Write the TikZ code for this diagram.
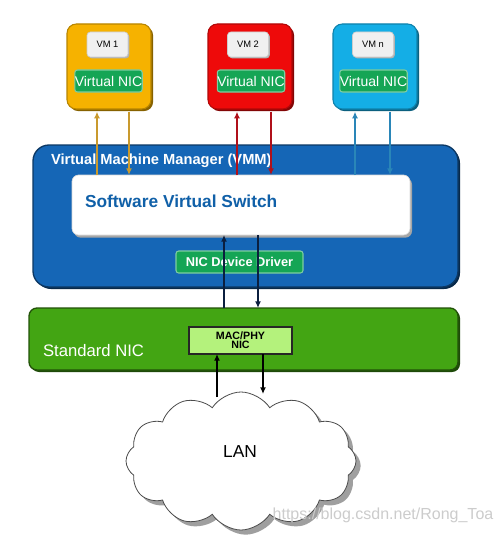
\documentclass[tikz,border=0pt]{standalone}
\usepackage{fontspec}
\setmainfont{Liberation Sans}
\usetikzlibrary{shapes.symbols,shadows,arrows.meta}
\definecolor{vmA}{HTML}{F6B200}
\definecolor{vmB}{HTML}{EE0A0A}
\definecolor{vmC}{HTML}{14AEE6}
\definecolor{nicgreen}{HTML}{15A555}
\definecolor{vmmblue}{HTML}{1566B6}
\definecolor{stdgreen}{HTML}{43A513}
\definecolor{macgreen}{HTML}{B4F27C}
\definecolor{arrA}{HTML}{C99A2E}
\definecolor{arrB}{HTML}{B0101A}
\definecolor{arrC}{HTML}{2A86B8}
\definecolor{arrN}{HTML}{0B1F3F}
\definecolor{swtext}{HTML}{1060A8}
\begin{document}
\begin{tikzpicture}[x=0.75pt,y=-0.75pt,
  sz/.style 2 args={minimum width=#1*0.75pt, minimum height=#2*0.75pt},
  base/.style={inner sep=0pt, outer sep=0pt},
  vmbox/.style={base, rounded corners=7pt, fill=#1, draw=#1!75!black, line width=0.8pt,
    drop shadow={shadow xshift=1.6pt, shadow yshift=-1.6pt, fill=#1!55!black, opacity=1}},
  vmlabel/.style={base, rounded corners=2.5pt, fill=gray!12, draw=gray!40, line width=0.5pt,
    font=\fontsize{7}{8}\selectfont, text=black,
    drop shadow={shadow xshift=1pt, shadow yshift=-1pt, fill=gray!60, opacity=1}},
  greenbox/.style={base, rounded corners=2pt, fill=nicgreen, draw=nicgreen!55!white, line width=0.8pt, text=white},
  vnic/.style={greenbox, font=\fontsize{10.5}{12}\selectfont},
  vmm/.style={base, rounded corners=12pt, fill=vmmblue, draw=vmmblue!55!black, line width=1pt,
    drop shadow={shadow xshift=1.5pt, shadow yshift=-1.5pt, fill=vmmblue!40!black, opacity=1}},
  switchbox/.style={base, rounded corners=5pt, fill=white, draw=gray!30, line width=0.5pt,
    drop shadow={shadow xshift=1.5pt, shadow yshift=-2pt, fill=gray!70, opacity=1}},
  stdnic/.style={base, rounded corners=6pt, fill=stdgreen, draw=stdgreen!50!black, line width=1pt,
    drop shadow={shadow xshift=1.5pt, shadow yshift=-1.5pt, fill=stdgreen!45!black, opacity=1}},
  macbox/.style={base, fill=macgreen, draw=black!85, line width=0.8pt, align=center,
    font=\bfseries\fontsize{8}{6.5}\selectfont},
  lancloud/.style={cloud, cloud puffs=12, cloud puff arc=115, aspect=1.65, fill=white, draw=black!70,
    line width=0.6pt, inner sep=0pt,
    drop shadow={shadow xshift=3.5pt, shadow yshift=-3.5pt, fill=gray!75, opacity=1}},
  link/.style={line width=1.5pt, draw=#1, -{Latex[length=5pt,width=4.5pt]}},
]
\useasboundingbox (0,0) rectangle (503,535);
\fill[white] (0,0) rectangle (503,535);

% VMM and switch
\node[vmm, sz={425}{142}] (vmm) at (245.5,216) {};
\node[base, anchor=west, text=white, font=\bfseries\fontsize{11}{13}\selectfont] (vmmtxt) at (51,161) {Virtual Machine Manager (VMM)};
\node[switchbox, sz={338}{60}] (sw) at (241,205) {};
\node[base, anchor=west, text=swtext, font=\bfseries\fontsize{13}{15}\selectfont] (swtxt) at (85,201) {Software Virtual Switch};
\node[greenbox, sz={127}{22}, font=\bfseries\fontsize{9.6}{11}\selectfont] (ndd) at (239.5,262) {NIC Device Driver};

% Standard NIC
\node[stdnic, sz={429}{62}] (std) at (243.5,339) {};
\node[base, anchor=west, text=white, font=\fontsize{12.5}{14}\selectfont] (stdtxt) at (43,351) {Standard NIC};
\node[macbox, sz={103}{27}] (mac) at (240.5,340.5) {MAC/PHY\\NIC};

% VMs
\node[vmbox=vmA, sz={84}{85}] (vm1) at (109,66.5) {};
\node[vmlabel, sz={41}{25}] (vm1l) at (107.5,44.5) {VM 1};
\node[vnic, sz={67}{22}] (vm1n) at (108.5,81) {Virtual NIC};

\node[vmbox=vmB, sz={84}{85}] (vm2) at (250,66.5) {};
\node[vmlabel, sz={41}{25}] (vm2l) at (248,44.5) {VM 2};
\node[vnic, sz={67}{22}] (vm2n) at (251,81) {Virtual NIC};

\node[vmbox=vmC, sz={84}{85}] (vm3) at (375,66.5) {};
\node[vmlabel, sz={41}{25}] (vm3l) at (373,44.5) {VM n};
\node[vnic, sz={67}{22}] (vm3n) at (373.5,81) {Virtual NIC};

% LAN cloud
\node[lancloud, sz={230}{138}] (lan) at (241,461) {};
\node[base, font=\fontsize{13}{15}\selectfont] (lantxt) at (240,452) {LAN};

% x positions of the links
\coordinate (xa1) at (97,0);
\coordinate (xa2) at (129,0);
\coordinate (xb1) at (237,0);
\coordinate (xb2) at (271,0);
\coordinate (xc1) at (355,0);
\coordinate (xc2) at (390,0);
\coordinate (xn1) at (224,0);
\coordinate (xn2) at (258,0);
\coordinate (lanU) at (217,397);
\coordinate (lanD) at (263,394);

% links VM <-> switch
\draw[link=arrA] (sw.north -| xa1) -- ([yshift=-2pt]vm1.south -| xa1);
\draw[link=arrA] ([yshift=-2pt]vm1.south -| xa2) -- (sw.north -| xa2);
\draw[link=arrB] (sw.north -| xb1) -- ([yshift=-2pt]vm2.south -| xb1);
\draw[link=arrB] ([yshift=-2pt]vm2.south -| xb2) -- (sw.north -| xb2);
\draw[link=arrC] (sw.north -| xc1) -- ([yshift=-2pt]vm3.south -| xc1);
\draw[link=arrC] ([yshift=-2pt]vm3.south -| xc2) -- (sw.north -| xc2);

% links switch <-> standard NIC
\draw[link=arrN] (std.north -| xn1) -- (sw.south -| xn1);
\draw[link=arrN] (sw.south -| xn2) -- (std.north -| xn2);

% links MAC <-> LAN
\draw[link=black] (lanU) -- (mac.south -| lanU);
\draw[link=black] (mac.south -| lanD) -- (lanD);

% watermark
\node[base, text=gray!40, font=\fontsize{12}{14}\selectfont] (wm) at (383,515) {https://blog.csdn.net/Rong\_Toa};
\end{tikzpicture}
\end{document}
